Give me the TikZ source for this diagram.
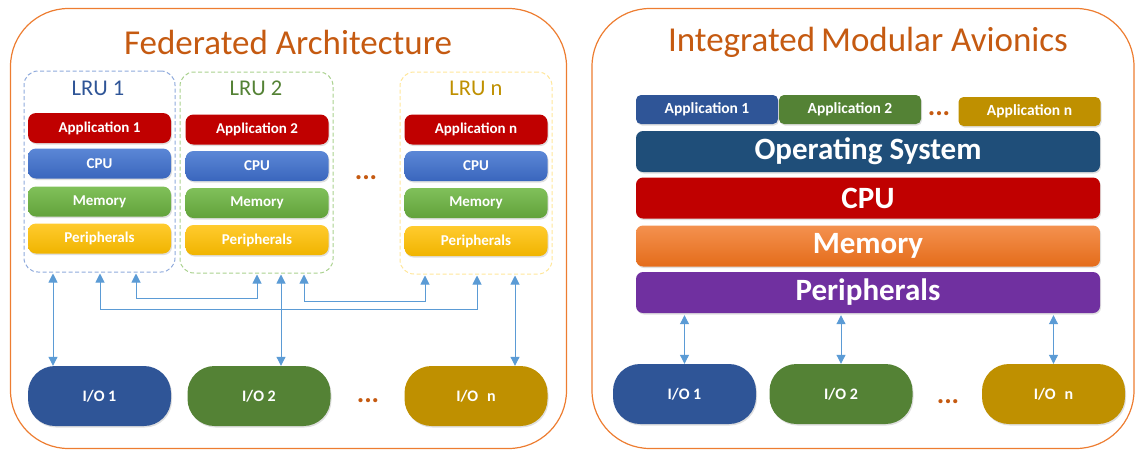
\documentclass[tikz,border=0pt]{standalone}
\usepackage{fontspec}
\setmainfont{Carlito}
\usetikzlibrary{arrows.meta,shadows}
\definecolor{ttl}{HTML}{C55A11}
\definecolor{frame}{HTML}{ED7D31}
\definecolor{arrc}{HTML}{5B9BD5}
\definecolor{appred}{HTML}{C00000}
\definecolor{ioblue}{HTML}{2F5597}
\definecolor{iogreen}{HTML}{548235}
\definecolor{iogold}{HTML}{BF9000}
\definecolor{osblue}{HTML}{1F4E79}
\definecolor{purp}{HTML}{7030A0}
\definecolor{lblue}{HTML}{8FAADC}
\definecolor{lgreen}{HTML}{A9D18E}
\definecolor{lyellow}{HTML}{FFE699}
\definecolor{cputop}{HTML}{5B87D6}
\definecolor{cpubot}{HTML}{3A66BD}
\definecolor{memtop}{HTML}{80C05A}
\definecolor{membot}{HTML}{62A23B}
\definecolor{pertop}{HTML}{FFCB2E}
\definecolor{perbot}{HTML}{F0B400}
\definecolor{omtop}{HTML}{F4914F}
\definecolor{ombot}{HTML}{E46C1A}
\tikzset{
  panel/.style={draw=frame, line width=1.2pt, rounded corners=58pt, inner sep=0pt},
  ttltext/.style={text=ttl, font=\fontsize{35}{35}\selectfont, inner sep=0pt},
  lrubox/.style={line width=1pt, rounded corners=14pt, inner sep=0pt, dash pattern=on 4pt off 2.5pt},
  lrutext/.style={font=\fontsize{22.5}{22.5}\selectfont, inner sep=0pt},
  blk/.style={rounded corners=8pt, text=white, font=\bfseries\fontsize{15}{15}\selectfont,
    minimum width=143pt, minimum height=30pt, inner sep=0pt,
    drop shadow={shadow xshift=1pt, shadow yshift=-1.5pt, opacity=0.25}},
  app/.style={blk, fill=appred},
  cpu/.style={blk, top color=cputop, bottom color=cpubot},
  mem/.style={blk, top color=memtop, bottom color=membot},
  per/.style={blk, top color=pertop, bottom color=perbot},
  iobox/.style={rounded corners=27pt, text=white, font=\bfseries\fontsize{16}{16}\selectfont,
    minimum width=143pt, minimum height=60pt, inner sep=0pt,
    drop shadow={shadow xshift=1pt, shadow yshift=-1.5pt, opacity=0.25}},
  layer/.style={rounded corners=7pt, text=white, font=\bfseries\fontsize{31}{31}\selectfont,
    minimum width=464pt, minimum height=41pt, inner sep=0pt,
    drop shadow={shadow xshift=1pt, shadow yshift=-1.5pt, opacity=0.25}},
  iapp/.style={rounded corners=5pt, text=white, font=\bfseries\fontsize{15.5}{15.5}\selectfont,
    minimum width=142pt, minimum height=29pt, inner sep=0pt,
    drop shadow={shadow xshift=1pt, shadow yshift=-1.5pt, opacity=0.25}},
  dots/.style={text=ttl, font=\bfseries\fontsize{28}{28}\selectfont, inner sep=0pt},
  arr/.style={draw=arrc, line width=1pt, {Triangle[width=9pt,length=9pt]}-{Triangle[width=9pt,length=9pt]}},
}
\begin{document}
\begin{tikzpicture}[x=1pt,y=-1pt]
\useasboundingbox (0,0) rectangle (1135,451);
% ---------------- Left panel
\node[panel, minimum width=556pt, minimum height=440pt] (lp) at (288.5,228.5) {};
\node[ttltext] (lpt) at (288,42) {Federated Architecture};
\node[lrubox, draw=lblue, minimum width=151pt, minimum height=201pt] (lru1) at (99.5,171.5) {};
\node[lrubox, draw=lgreen, minimum width=153pt, minimum height=201pt] (lru2) at (256.5,172.5) {};
\node[lrubox, draw=lyellow, minimum width=152pt, minimum height=202pt] (lrun) at (476,173) {};
\node[lrutext, text=ioblue] (lru1t) at (98,88) {LRU 1};
\node[lrutext, text=iogreen] (lru2t) at (256,88) {LRU 2};
\node[lrutext, text=iogold] (lrunt) at (476,88) {LRU n};
% LRU 1
\node[app] (a1) at (99.5,128) {Application 1};
\node[cpu] (c1) at (99.5,163.5) {CPU};
\node[mem] (m1) at (99.5,201.5) {Memory};
\node[per] (p1) at (99.5,238.5) {Peripherals};
% LRU 2
\node[app] (a2) at (257,129.5) {Application 2};
\node[cpu] (c2) at (257,166) {CPU};
\node[mem] (m2) at (257,203) {Memory};
\node[per] (p2) at (257,240) {Peripherals};
% LRU n
\node[app] (an) at (476,129.5) {Application n};
\node[cpu] (cn) at (476,166) {CPU};
\node[mem] (mn) at (476,203) {Memory};
\node[per] (pn) at (476,241) {Peripherals};
\node[dots] (ld1) at (366,178) {...};
% I/O
\node[iobox, fill=ioblue] (io1) at (99.5,396) {I/O 1};
\node[iobox, fill=iogreen] (io2) at (259,396) {I/O 2};
\node[iobox, fill=iogold] (ion) at (476,396) {I/O\,\, n};
\node[dots] (ld2) at (368,401) {...};
% arrows
\coordinate (d1) at ([xshift=-46.5pt,yshift=-1pt]lru1.south);
\coordinate (d2) at ([xshift=24.5pt,yshift=-1pt]lru2.south);
\coordinate (d3) at ([xshift=39pt,yshift=-1pt]lrun.south);
\draw[arr] (d1) -- (d1 |- io1.north);
\draw[arr] (d2) -- (d2 |- io2.north);
\draw[arr] (d3) -- (d3 |- ion.north);
\coordinate (ea) at ([xshift=36.5pt,yshift=-1pt]lru1.south);
\coordinate (eb) at ([xshift=0.5pt,yshift=-1pt]lru2.south);
\coordinate (fa) at ([xshift=0.5pt,yshift=-1pt]lru1.south);
\coordinate (fb) at ([xshift=1pt,yshift=-1pt]lrun.south);
\coordinate (ga) at ([xshift=47.5pt,yshift=-1pt]lru2.south);
\coordinate (gb) at ([xshift=-51pt,yshift=-1pt]lrun.south);
\draw[arr] (ea) -- (ea |- 0,298) -| (eb);
\draw[arr] (fa) -- (fa |- 0,309) -| (fb);
\draw[arr] (ga) -- (ga |- 0,301) -| (gb);
% ---------------- Right panel
\node[panel, minimum width=542pt, minimum height=440pt] (rp) at (863,228.5) {};
\node[ttltext] (rpt) at (868,42) {Integrated\,Modular Avionics};
\node[iapp, fill=ioblue] (ia1) at (707,109.5) {Application 1};
\node[iapp, fill=iogreen] (ia2) at (850,109.5) {Application 2};
\node[iapp, fill=iogold] (ian) at (1029.5,111.5) {Application n};
\node[dots] (rd1) at (939,114) {...};
\node[layer, fill=osblue] (os) at (868,151.5) {Operating System};
\node[layer, fill=appred] (cpu) at (868,198) {CPU};
\node[layer, top color=omtop, bottom color=ombot] (mem) at (868,246) {Memory};
\node[layer, fill=purp] (per) at (868,292.5) {Peripherals};
\node[iobox, fill=ioblue] (rio1) at (684.5,394) {I/O 1};
\node[iobox, fill=iogreen] (rio2) at (841,394) {I/O 2};
\node[iobox, fill=iogold] (rion) at (1053.5,394) {I/O\,\, n};
\node[dots] (rd2) at (948,402) {...};
\draw[arr] (rio1.north) -- ([yshift=-2pt]rio1.north |- per.south);
\draw[arr] (rio2.north) -- ([yshift=-2pt]rio2.north |- per.south);
\draw[arr] (rion.north) -- ([yshift=-2pt]rion.north |- per.south);
\end{tikzpicture}
\end{document}
